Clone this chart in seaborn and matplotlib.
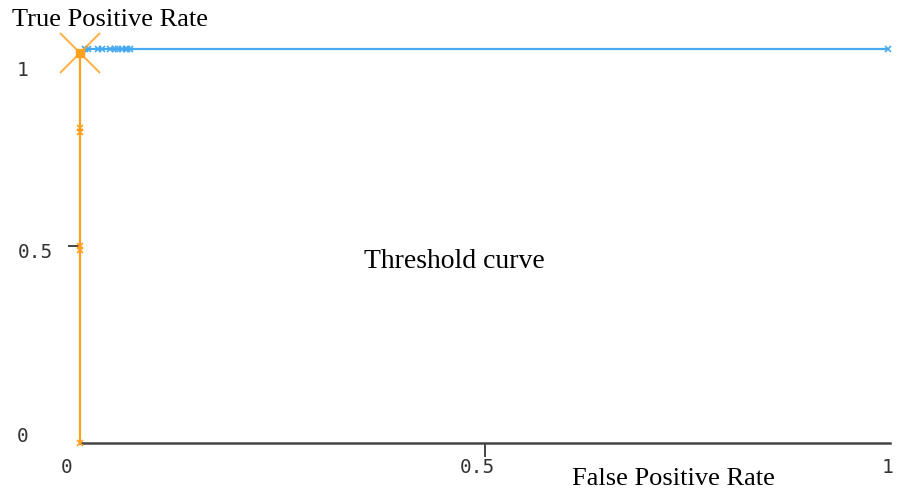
import matplotlib
matplotlib.use("Agg")
import matplotlib.pyplot as plt
from matplotlib.transforms import ScaledTranslation
import numpy as np
import pandas as pd
import seaborn as sns

# Threshold curve points (False Positive Rate, True Positive Rate)
low_fpr = [0.0, 0.0, 0.0, 0.0, 0.0, 0.0]
low_tpr = [0.0, 0.49, 0.5, 0.79, 0.8, 0.99]
high_fpr = [0.006, 0.01, 0.022, 0.027, 0.037, 0.043, 0.047, 0.052, 0.057, 0.058, 0.062, 0.998]
high_tpr = [1.0, 1.0, 1.0, 1.0, 1.0, 1.0, 1.0, 1.0, 1.0, 1.0, 1.0, 1.0]
selected_point = (0.0, 0.99)

x_tick_values = [0, 0.5, 1]
x_tick_labels = ["0", "0.5", "1"]
y_tick_values = [0, 0.5, 1]
y_tick_labels = ["0", "0.5", "1"]

ORANGE = "#FFA01E"
BLUE = "#45AAF0"
AXIS = "#454545"

sns.set_theme(style="white")
plt.rcParams["font.family"] = ["DejaVu Sans"]

fig = plt.figure(figsize=(8.99, 4.91), dpi=100)
W, H = 899, 491
ax = fig.add_axes([80 / W, (H - 443) / H, 810 / W, 394 / H])

low = pd.DataFrame({"fpr": low_fpr, "tpr": low_tpr})
high = pd.DataFrame({"fpr": high_fpr, "tpr": high_tpr})

sns.lineplot(data=high, x="fpr", y="tpr", sort=False, estimator=None, ax=ax,
             color=BLUE, lw=1.6, marker="x", markersize=4, markeredgewidth=1.2,
             markeredgecolor=BLUE, clip_on=False, zorder=3)
sns.lineplot(data=low, x="fpr", y="tpr", sort=False, estimator=None, ax=ax,
             color=ORANGE, lw=1.6, marker="x", markersize=4, markeredgewidth=1.2,
             markeredgecolor=ORANGE, clip_on=False, zorder=4)

# highlighted threshold point
ax.plot([selected_point[0]], [selected_point[1]], marker="x", markersize=29,
        markeredgewidth=1.4, color=ORANGE, alpha=0.85, clip_on=False, zorder=5)
ax.plot([selected_point[0]], [selected_point[1]], marker="s", markersize=5.5,
        color=ORANGE, clip_on=False, zorder=6)

ax.set_xlim(0, 1)
ax.set_ylim(0, 1)
ax.set_xlabel("")
ax.set_ylabel("")

for side in ["top", "right", "left"]:
    ax.spines[side].set_visible(False)
ax.spines["bottom"].set_color(AXIS)
ax.spines["bottom"].set_linewidth(1.8)

mono = {"family": "DejaVu Sans Mono", "size": 14, "color": "#333333"}

ax.set_xticks(x_tick_values, x_tick_labels, fontdict=mono)
ax.set_yticks(y_tick_values, y_tick_labels, fontdict=mono)
ax.tick_params(axis="both", which="major", length=0, pad=0)
ax.xaxis.remove_overlapping_locs = False
ax.yaxis.remove_overlapping_locs = False
ax.set_xticks([0.5], minor=True)
ax.set_yticks([0.5], minor=True)
ax.tick_params(axis="x", which="minor", bottom=True, length=10, width=1.4, color=AXIS)
ax.tick_params(axis="y", which="minor", left=True, length=9, width=1.4, color=AXIS)

# shift tick labels to their drawn positions (pixels)
x_shift = [(-13, -15), (-8, -15), (-2, -15)]
y_shift = [(-52, 8), (-27, -4), (-52, -20)]
for lab, (dx, dy) in zip(ax.get_xticklabels(), x_shift):
    lab.set_transform(lab.get_transform() + ScaledTranslation(dx / 100, dy / 100, fig.dpi_scale_trans))
for lab, (dx, dy) in zip(ax.get_yticklabels(), y_shift):
    lab.set_transform(lab.get_transform() + ScaledTranslation(dx / 100, dy / 100, fig.dpi_scale_trans))

serif = {"family": "Liberation Serif", "color": "black"}
fig.text(12 / W, 1 - 20 / H, "True Positive Rate", ha="left", va="center", size=19, **serif)
fig.text(572 / W, 1 - 479 / H, "False Positive Rate", ha="left", va="center", size=19, **serif)
fig.text(454 / W, 1 - 262 / H, "Threshold curve", ha="center", va="center", size=20, **serif)

fig.savefig("out.png", dpi=100)
